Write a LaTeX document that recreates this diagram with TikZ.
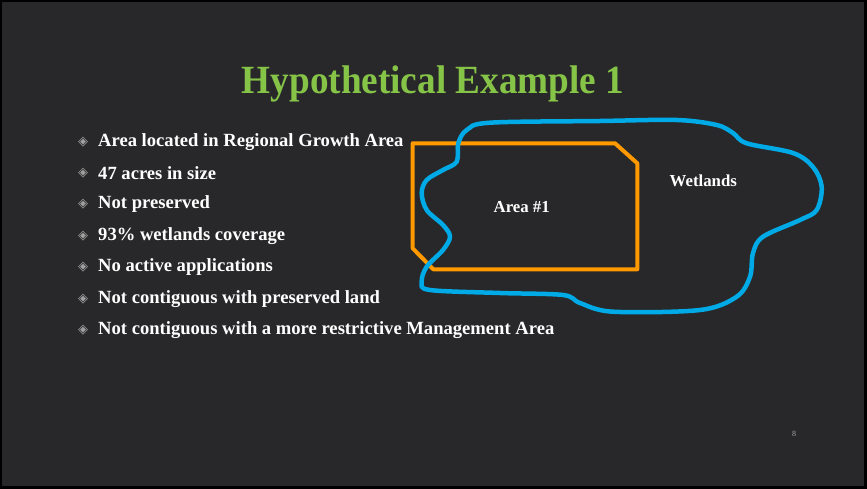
\documentclass[tikz,border=0pt]{standalone}
\usepackage{fontspec}
\setmainfont{Liberation Serif}
\newfontfamily\symfont{DejaVu Sans}
\definecolor{slidebg}{RGB}{40,40,42}
\definecolor{titlegreen}{RGB}{134,196,72}
\definecolor{parcelorange}{RGB}{255,153,0}
\definecolor{wetblue}{RGB}{0,170,230}
\tikzset{
  item/.style={anchor=west,text=white,font=\fontsize{18.6}{19}\selectfont\bfseries,inner sep=0pt},
  bullet/.style={text=gray!75,font=\symfont\fontsize{13}{13}\selectfont,inner sep=0pt},
  maplabel/.style={text=white,font=\fontsize{16.8}{17}\selectfont\bfseries,inner sep=0pt}
}
\begin{document}
\begin{tikzpicture}[x=1pt,y=-1pt]

% slide background
\fill[black] (0,0) rectangle (867,489);
\fill[slidebg] (2,2) rectangle (864,486);
\useasboundingbox (0,0) rectangle (867,489);

% title
\node[text=titlegreen,font=\fontsize{40}{40}\selectfont\bfseries] (title) at (433,84)
  {\scalebox{0.93}[1]{Hypothetical Example 1}};

% bullet list
\foreach \t [count=\i] in {Area located in Regional Growth Area,
  47 acres in size,
  Not preserved,
  93\% wetlands coverage,
  No active applications,
  Not contiguous with preserved land,
  Not contiguous with a more restrictive Management Area}{
  \node[bullet] (b\i) at (83,{141.7+31.4*(\i-1)}) {◈};
  \node[item] (t\i) at (98,{141.7+31.4*(\i-1)}) {\t};
}

% Area #1 parcel
\draw[parcelorange,line width=4,line join=round]
  (412.7,143.3) -- (615,143.3) -- (637.3,163.3) -- (637.3,269.3)
  -- (433.3,269.3) -- (412.7,248.3) -- cycle;

% wetlands outline
\draw[wetblue,line width=4.5,line cap=round,line join=round]
  plot[smooth cycle,tension=0.55] coordinates {
  (490,122.7) (600,121) (676.7,120) (716.7,125) (733,133) (746.7,143.3)
  (793,153) (813,167) (821.7,186.7) (816.7,210) (800,220) (763,236.7)
  (753,253) (750,276.7) (736.7,296.7) (700,310) (613,311.7) (580,303)
  (563,295) (500,293) (430,290) (421.7,281.7) (426.7,266.7) (443,250)
  (450,236.7) (443,225) (426.7,210) (421.7,193) (426.7,180) (443,170)
  (456.7,161.7) (458.3,143.3) (466.7,130)};

\node[maplabel] (area) at (521.7,207.3) {Area \#1};
\node[maplabel] (wet) at (703.3,180.7) {Wetlands};

% slide number
\node[text=gray!70,font=\fontsize{8}{8}\selectfont] (page) at (794,434) {8};

\end{tikzpicture}
\end{document}
